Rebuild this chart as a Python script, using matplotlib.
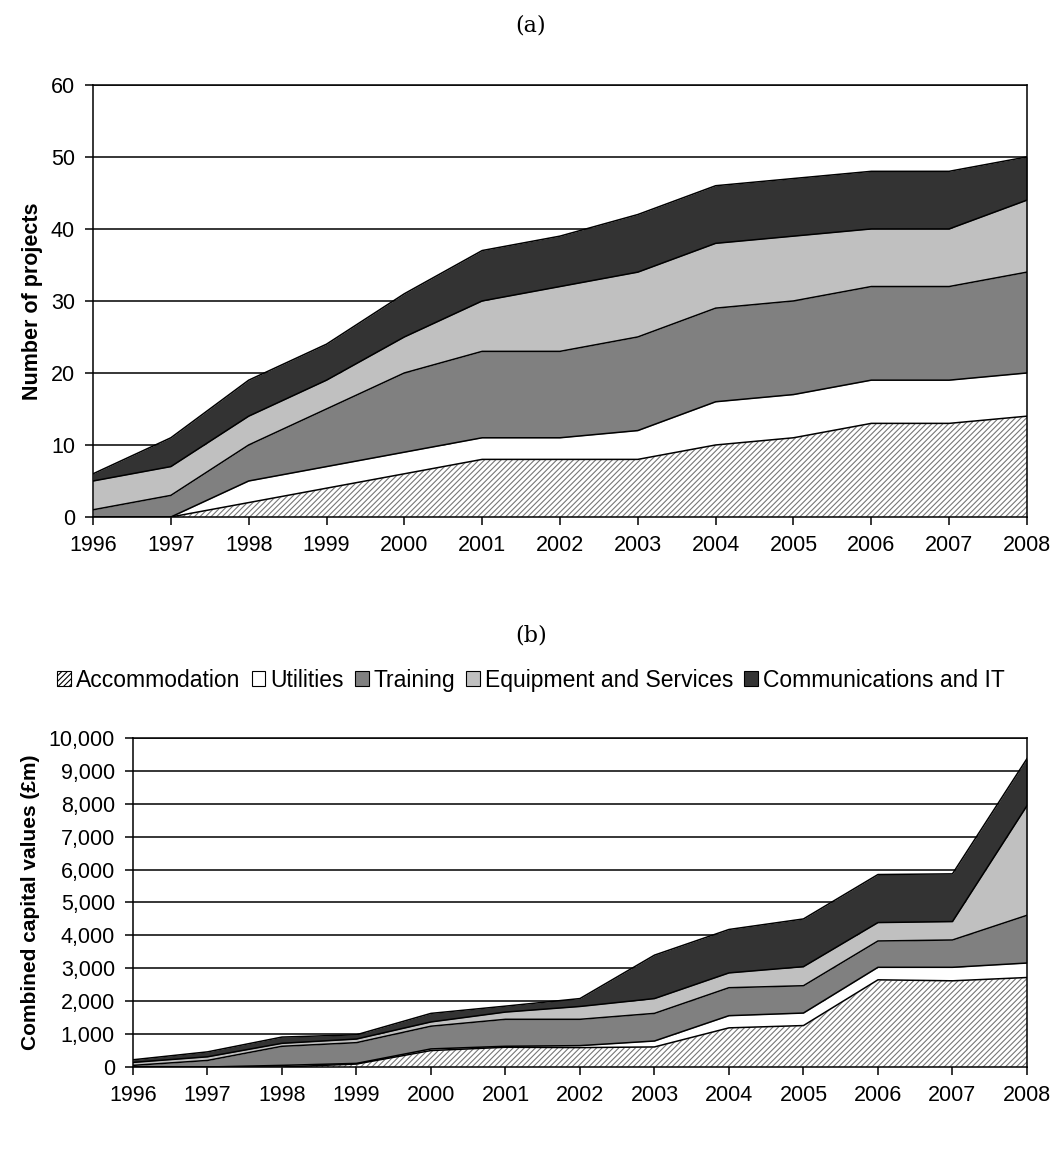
import numpy as np
import matplotlib
matplotlib.use("Agg")
import matplotlib.pyplot as plt
from matplotlib.patches import Patch
from matplotlib.ticker import FuncFormatter

plt.rcParams['font.family'] = ['Liberation Sans', 'DejaVu Sans']
plt.rcParams['hatch.linewidth'] = 0.8

years = list(range(1996, 2009))
series = ["Accommodation", "Utilities", "Training", "Equipment and Services", "Communications and IT"]
colors = ["white", "white", "#808080", "#c0c0c0", "#333333"]
hatches = ["//////", None, None, None, None]

# (a) number of projects, per sector
proj_acc = [0, 0, 2, 4, 6, 8, 8, 8, 10, 11, 13, 13, 14]
proj_util = [0, 0, 3, 3, 3, 3, 3, 4, 6, 6, 6, 6, 6]
proj_train = [1, 3, 5, 8, 11, 12, 12, 13, 13, 13, 13, 13, 14]
proj_equip = [4, 4, 4, 4, 5, 7, 9, 9, 9, 9, 8, 8, 10]
proj_comm = [1, 4, 5, 5, 6, 7, 7, 8, 8, 8, 8, 8, 6]

# (b) combined capital values (GBP m), per sector
cap_acc = [0, 0, 0, 90, 500, 600, 590, 610, 1190, 1260, 2650, 2620, 2720]
cap_util = [0, 0, 50, 20, 50, 30, 60, 180, 370, 380, 380, 410, 440]
cap_train = [50, 200, 580, 630, 690, 820, 800, 840, 850, 830, 800, 830, 1450]
cap_equip = [90, 110, 90, 110, 130, 220, 390, 450, 450, 580, 560, 560, 3330]
cap_comm = [80, 150, 190, 130, 260, 180, 240, 1320, 1320, 1450, 1460, 1450, 1430]


def stacked(ax, layers):
    base = np.zeros(len(years))
    for vals, c, h in zip(layers, colors, hatches):
        top = base + np.array(vals)
        ax.fill_between(years, base, top, facecolor=c, edgecolor="#777777" if h else c,
                        hatch=h, linewidth=0, zorder=2)
        ax.plot(years, top, color="black", lw=1.1, zorder=3)
        base = top


def style(ax):
    ax.set_xlim(1996, 2008)
    ax.set_xticks(years)
    ax.grid(axis="y", color="black", lw=1.1)
    ax.set_axisbelow(True)
    for s in ax.spines.values():
        s.set_color("black")
        s.set_linewidth(1.1)
    ax.tick_params(direction="out", length=6, width=1.1, labelsize=15.5, pad=7)


fig = plt.figure(figsize=(10.62, 11.71), dpi=100)

ax1 = fig.add_axes([0.0876, 0.5585, 0.8794, 0.369])
stacked(ax1, [proj_acc, proj_util, proj_train, proj_equip, proj_comm])
style(ax1)
ax1.set_ylim(0, 60)
ax1.set_yticks(range(0, 61, 10))
ax1.set_ylabel("Number of projects", fontsize=15.5, fontweight="bold", labelpad=6)

ax2 = fig.add_axes([0.1252, 0.0888, 0.8418, 0.281])
stacked(ax2, [cap_acc, cap_util, cap_train, cap_equip, cap_comm])
style(ax2)
ax2.set_ylim(0, 10000)
ax2.set_yticks(range(0, 10001, 1000))
ax2.yaxis.set_major_formatter(FuncFormatter(lambda v, p: f"{int(v):,}"))
ax2.set_ylabel("Combined capital values (£m)", fontsize=15, fontweight="bold", labelpad=6)

fig.text(0.5, 0.988, "(a)", ha="center", va="top", fontsize=16, family="DejaVu Serif")
fig.text(0.5, 0.467, "(b)", ha="center", va="top", fontsize=16, family="DejaVu Serif")

handles = [Patch(facecolor=c, edgecolor="black", hatch=h, lw=0.8) for c, h in zip(colors, hatches)]
fig.legend(handles, series, loc="center", bbox_to_anchor=(0.5, 0.419), ncol=5, frameon=False,
           fontsize=16.5, handlelength=0.6, handleheight=0.6, handletextpad=0.2, columnspacing=0.5)

fig.savefig("out.png", dpi=100)
